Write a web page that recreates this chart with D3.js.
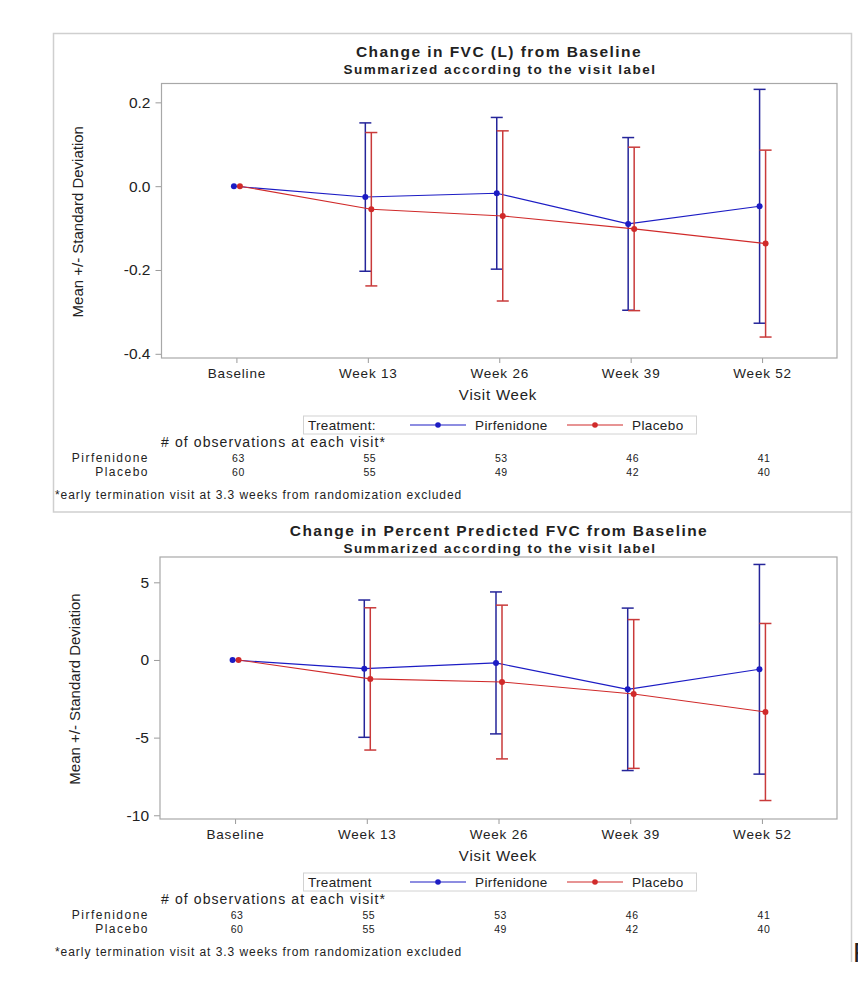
<!DOCTYPE html>
<html>
<head>
<meta charset="utf-8">
<script src="https://cdn.jsdelivr.net/npm/d3@7"></script>
<style>
  body { margin: 0; background: #fff; }
  text { font-family: "Liberation Sans", Arial, sans-serif; fill: #222; }
  .narrow { font-family: "Liberation Sans Narrow", "Liberation Sans", Arial, sans-serif; }
</style>
</head>
<body>
<script>
// visits and treatment groups
var visits = ['Baseline', 'Week 13', 'Week 26', 'Week 39', 'Week 52'];
var groups = ['Pirfenidone', 'Placebo'];

// change in FVC (L): mean and SD per visit
var fvcPirfMean = [0, -0.026, -0.017, -0.090, -0.048];
var fvcPirfSD   = [0, 0.177, 0.181, 0.206, 0.279];
var fvcPlacMean = [0, -0.055, -0.071, -0.102, -0.137];
var fvcPlacSD   = [0, 0.183, 0.203, 0.195, 0.223];

// change in percent predicted FVC: mean and SD per visit
var ppPirfMean = [0, -0.56, -0.19, -1.89, -0.60];
var ppPirfSD   = [0, 4.42, 4.57, 5.23, 6.75];
var ppPlacMean = [0, -1.22, -1.42, -2.19, -3.35];
var ppPlacSD   = [0, 4.58, 4.95, 4.79, 5.70];

// number of observations at each visit
var pirfCount = [63, 55, 53, 46, 41];
var placCount = [60, 55, 49, 42, 40];

var fvcTicks = [0.2, 0.0, -0.2, -0.4];
var ppTicks = [5, 0, -5, -10];

var colors = { Pirfenidone: '#1c1cc4', Placebo: '#d02a2a' };
var barColors = { Pirfenidone: '#25259a', Placebo: '#c93a3a' };
var shift = { Pirfenidone: -2.5, Placebo: 3.5 };

var svg = d3.select('body').append('svg')
    .attr('width', 858)
    .attr('height', 982);

// outer frames
svg.append('rect')
    .attr('x', 53.5).attr('y', 33.5)
    .attr('width', 798).attr('height', 478.5)
    .attr('fill', 'none').attr('stroke', '#cfcfcf').attr('stroke-width', 1.5);
svg.append('line')
    .attr('x1', 851.5).attr('x2', 851.5).attr('y1', 512).attr('y2', 962)
    .attr('stroke', '#cfcfcf').attr('stroke-width', 1.5);

function drawPanel(p) {
  var g = svg.append('g');
  var x = d3.scalePoint().domain(visits).range([p.left, p.right]).padding(0.57);
  var y = d3.scaleLinear().domain(p.domain).range([p.bottom, p.top]);

  g.append('text').attr('x', 499).attr('y', p.titleY).attr('dy', '0.35em')
      .attr('text-anchor', 'middle')
      .style('font-size', '15.5px').style('font-weight', 'bold').style('letter-spacing', '1.45px')
      .text(p.title);
  g.append('text').attr('x', 500).attr('y', p.titleY + 17).attr('dy', '0.35em')
      .attr('text-anchor', 'middle')
      .style('font-size', '13.5px').style('font-weight', 'bold').style('letter-spacing', '1.5px')
      .text('Summarized according to the visit label');

  // y axis
  var yAxis = g.append('g')
      .attr('transform', 'translate(' + p.left + ',0)')
      .call(d3.axisLeft(y).tickValues(p.ticks).tickSize(6).tickPadding(5).tickFormat(p.fmt));
  yAxis.select('.domain').remove();
  yAxis.selectAll('line').attr('stroke', '#9a9a9a');
  yAxis.selectAll('text').attr('class', 'narrow').style('font-size', '15.5px').attr('fill', '#222');

  // x axis
  var xAxis = g.append('g')
      .attr('transform', 'translate(0,' + p.bottom + ')')
      .call(d3.axisBottom(x).tickSize(5).tickPadding(5));
  xAxis.select('.domain').remove();
  xAxis.selectAll('line').attr('stroke', '#9a9a9a');
  xAxis.selectAll('text').style('font-size', '13.5px').style('letter-spacing', '0.8px').attr('fill', '#222');

  g.append('rect')
      .attr('x', p.left).attr('y', p.top)
      .attr('width', p.right - p.left).attr('height', p.bottom - p.top)
      .attr('fill', 'none').attr('stroke', '#a8a8a8').attr('stroke-width', 1.2);

  g.append('text').attr('class', 'narrow')
      .attr('transform', 'translate(' + p.yLabelX + ',' + ((p.top + p.bottom) / 2 + 1) + ') rotate(-90)')
      .attr('dy', '0.35em').attr('text-anchor', 'middle')
      .style('font-size', '15px')
      .text('Mean +/- Standard Deviation');

  g.append('text').attr('x', 498).attr('y', p.bottom + 37).attr('dy', '0.35em')
      .attr('text-anchor', 'middle')
      .style('font-size', '15px').style('letter-spacing', '0.8px')
      .text('Visit Week');

  // series
  groups.forEach(function(grp) {
    var rows = visits.map(function(v, i) {
      return { visit: v, mean: p.means[grp][i], sd: p.sds[grp][i] };
    });
    var cx = function(d) { return x(d.visit) + shift[grp]; };

    g.append('path')
        .datum(rows)
        .attr('fill', 'none')
        .attr('stroke', colors[grp])
        .attr('stroke-width', 1.1)
        .attr('d', d3.line().x(cx).y(function(d) { return y(d.mean); }));

    var bars = g.selectAll('g.bar-' + grp)
        .data(rows.filter(function(d) { return d.sd > 0; }))
      .enter().append('g')
        .attr('stroke', barColors[grp])
        .attr('stroke-width', 1.5);
    bars.append('line')
        .attr('x1', cx).attr('x2', cx)
        .attr('y1', function(d) { return y(d.mean + d.sd); })
        .attr('y2', function(d) { return y(d.mean - d.sd); });
    bars.append('line')
        .attr('x1', function(d) { return cx(d) - 6; }).attr('x2', function(d) { return cx(d) + 6; })
        .attr('y1', function(d) { return y(d.mean + d.sd); })
        .attr('y2', function(d) { return y(d.mean + d.sd); });
    bars.append('line')
        .attr('x1', function(d) { return cx(d) - 6; }).attr('x2', function(d) { return cx(d) + 6; })
        .attr('y1', function(d) { return y(d.mean - d.sd); })
        .attr('y2', function(d) { return y(d.mean - d.sd); });

    g.selectAll('circle.pt-' + grp)
        .data(rows)
      .enter().append('circle')
        .attr('cx', cx)
        .attr('cy', function(d) { return y(d.mean); })
        .attr('r', 3)
        .attr('fill', colors[grp]);
  });

  // legend
  var ly = p.legendY;
  g.append('rect')
      .attr('x', 303.5).attr('y', ly - 9)
      .attr('width', 393).attr('height', 18)
      .attr('fill', '#fff').attr('stroke', '#d2d2d2');
  g.append('text').attr('x', 308).attr('y', ly).attr('dy', '0.35em')
      .style('font-size', '13.5px').style('letter-spacing', '0.3px')
      .text(p.legendTitle);
  var legX = { Pirfenidone: 410, Placebo: 567 };
  groups.forEach(function(grp) {
    var lx = legX[grp];
    g.append('line').attr('x1', lx).attr('x2', lx + 56).attr('y1', ly).attr('y2', ly)
        .attr('stroke', colors[grp]).attr('stroke-width', 1.2);
    g.append('circle').attr('cx', lx + 28).attr('cy', ly).attr('r', 2.8).attr('fill', colors[grp]);
    g.append('text').attr('x', lx + 65).attr('y', ly).attr('dy', '0.35em')
        .style('font-size', '13.5px').style('letter-spacing', '0.4px')
        .text(grp);
  });

  // observation counts
  var oy = ly + 17;
  g.append('text').attr('x', 161).attr('y', oy).attr('dy', '0.35em')
      .style('font-size', '14px').style('letter-spacing', '1.1px')
      .text('# of observations at each visit*');
  [['Pirfenidone', pirfCount], ['Placebo', placCount]].forEach(function(r, k) {
    var ry = oy + 16 + k * 14;
    g.append('text').attr('x', 149).attr('y', ry).attr('dy', '0.35em')
        .attr('text-anchor', 'end')
        .style('font-size', '12px').style('letter-spacing', '1.5px')
        .text(r[0]);
    g.selectAll('text.n' + k)
        .data(r[1])
      .enter().append('text')
        .attr('x', function(d, i) { return x(visits[i]) + 2; })
        .attr('y', ry).attr('dy', '0.35em')
        .attr('text-anchor', 'middle')
        .style('font-size', '10.5px').style('letter-spacing', '0.5px')
        .text(function(d) { return d; });
  });

  g.append('text').attr('x', 55).attr('y', oy + 53).attr('dy', '0.35em')
      .style('font-size', '12px').style('letter-spacing', '0.95px')
      .text('*early termination visit at 3.3 weeks from randomization excluded');
}

drawPanel({
  title: 'Change in FVC (L) from Baseline',
  titleY: 52,
  left: 161.5, right: 837, top: 83.5, bottom: 358,
  domain: [-0.41, 0.245],
  ticks: fvcTicks,
  fmt: function(d) { return d.toFixed(1); },
  yLabelX: 78,
  means: { Pirfenidone: fvcPirfMean, Placebo: fvcPlacMean },
  sds: { Pirfenidone: fvcPirfSD, Placebo: fvcPlacSD },
  legendY: 425,
  legendTitle: 'Treatment:'
});

drawPanel({
  title: 'Change in Percent Predicted FVC from Baseline',
  titleY: 531,
  left: 160, right: 837, top: 557, bottom: 819,
  domain: [-10.24, 6.63],
  ticks: ppTicks,
  fmt: function(d) { return String(d); },
  yLabelX: 75,
  means: { Pirfenidone: ppPirfMean, Placebo: ppPlacMean },
  sds: { Pirfenidone: ppPirfSD, Placebo: ppPlacSD },
  legendY: 882,
  legendTitle: 'Treatment'
});

// caption letter cut off at the right edge, as in the source image
svg.append('text').attr('x', 853).attr('y', 962)
    .style('font-size', '28px')
    .text('F');
</script>
</body>
</html>
